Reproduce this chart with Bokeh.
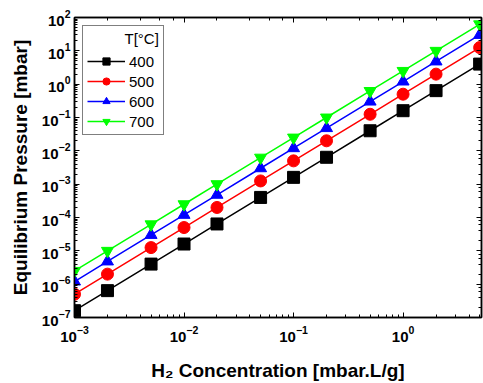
from bokeh.plotting import figure
from bokeh.models import LogAxis, Legend, LegendItem, LogTicker, CustomJSTickFormatter
from bokeh.embed import file_html
from bokeh.resources import INLINE

conc = [0.001, 0.002, 0.005, 0.01, 0.02, 0.05, 0.1, 0.2, 0.5, 1, 2, 5]
p400 = [1.6e-7, 6.4e-7, 4e-6, 1.6e-5, 6.4e-5, 4e-4, 1.6e-3, 6.4e-3, 0.04, 0.16, 0.64, 4.0]
p500 = [5e-7, 2e-6, 1.25e-5, 5e-5, 2e-4, 1.25e-3, 5e-3, 0.02, 0.125, 0.5, 2.0, 12.5]
p600 = [1.2e-6, 4.8e-6, 3e-5, 1.2e-4, 4.8e-4, 3e-3, 0.012, 0.048, 0.3, 1.2, 4.8, 30.0]
p700 = [2.5e-6, 1e-5, 6.25e-5, 2.5e-4, 1e-3, 6.25e-3, 0.025, 0.1, 0.625, 2.5, 10.0, 62.5]
temps = ["400", "500", "600", "700"]
colors = ["black", "red", "blue", "lime"]
markers = ["square", "circle", "triangle", "inverted_triangle"]

FONT = "Liberation Sans"

p = figure(width=483, height=383, x_axis_type="log", y_axis_type="log",
           x_range=(0.001, 5.2), y_range=(1e-7, 100),
           output_backend="svg", toolbar_location=None,
           min_border_left=74, min_border_top=17, min_border_right=2, min_border_bottom=58,
           background_fill_color="white", border_fill_color="white")
p.grid.visible = False
p.outline_line_color = "black"
p.outline_line_width = 1.5

items = []
for t, ys, c, m in zip(temps, [p400, p500, p600, p700], colors, markers):
    l = p.line(conc, ys, line_color=c, line_width=1.5)
    s = p.scatter(conc, ys, marker=m, size=12 if m != "circle" else 12,
                  fill_color=c, line_color=c)
    items.append(LegendItem(label=t, renderers=[l, s]))

def style_axis(ax, labels=True):
    ax.axis_line_color = "black"
    ax.axis_line_width = 1.5
    ax.major_tick_in = 5
    ax.major_tick_out = 0
    ax.minor_tick_in = 3
    ax.minor_tick_out = 0
    ax.major_tick_line_color = "black"
    ax.minor_tick_line_color = "black"
    ax.major_label_text_font = FONT
    ax.major_label_text_font_style = "bold"
    ax.major_label_text_font_size = "15px"
    ax.major_label_text_color = "black"
    if not labels:
        ax.formatter = CustomJSTickFormatter(code="return '';")
        ax.major_label_text_font_size = "1px"
        ax.major_label_standoff = 0

xa = p.xaxis[0]
ya = p.yaxis[0]
style_axis(xa)
style_axis(ya)
xa.axis_label = "H₂ Concentration [mbar.L/g]"
ya.axis_label = "Equilibrium Pressure [mbar]"
for ax in (xa, ya):
    ax.axis_label_text_font = FONT
    ax.axis_label_text_font_style = "bold"
    ax.axis_label_text_font_size = "19px"
    ax.axis_label_text_color = "black"
xa.axis_label_standoff = 15
ya.axis_label_standoff = 8
xa.major_label_standoff = 8
ya.major_label_standoff = 4

top = LogAxis(ticker=LogTicker())
right = LogAxis(ticker=LogTicker())
style_axis(top, labels=False)
style_axis(right, labels=False)
p.add_layout(top, "above")
p.add_layout(right, "right")

leg = Legend(items=items, location="top_left", title="\u00a0" * 9 + "T[°C]")
leg.title_text_font = FONT
leg.title_text_font_size = "15px"
leg.title_text_font_style = "normal"
leg.title_text_color = "black"
leg.label_text_font = FONT
leg.label_text_font_size = "15px"
leg.label_text_color = "black"
leg.border_line_color = "black"
leg.border_line_width = 1.2
leg.glyph_width = 38
leg.glyph_height = 18
leg.spacing = 2
leg.padding = 4
leg.margin = 8
leg.label_standoff = 4
leg.background_fill_alpha = 1
p.add_layout(leg)

open("out.html", "w").write(file_html(p, INLINE))
